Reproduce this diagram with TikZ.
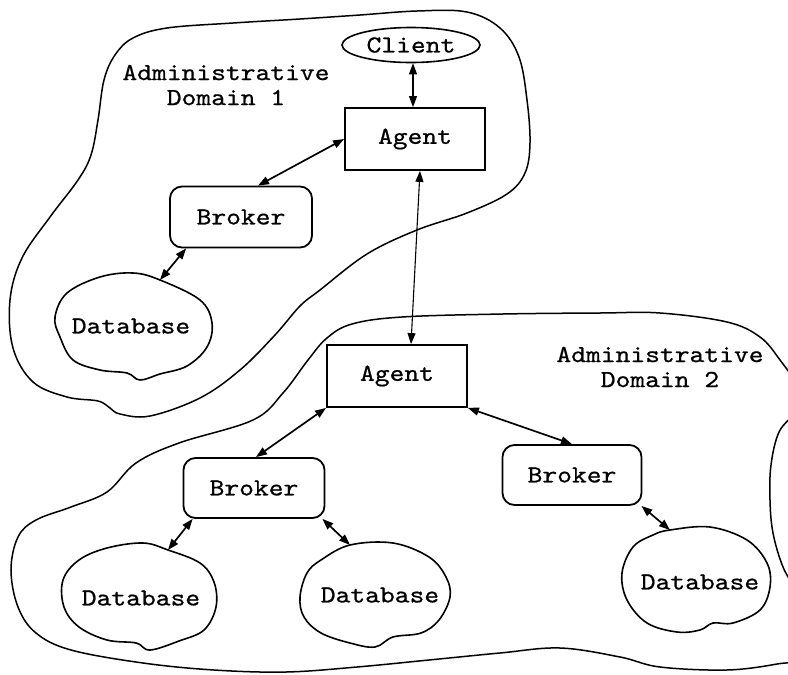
\documentclass[tikz,border=0pt]{standalone}
\usepackage{fontspec}
\newfontfamily\courfont{lmmono10-regular}[Extension=.otf, FakeStretch=1.15, FakeBold=0.7]
\usetikzlibrary{arrows.meta,shapes.geometric}
\tikzset{
  lbl/.style={font={\fontsize{24.5}{25}\selectfont\courfont}, inner sep=0pt},
  agentbox/.style={draw, line width=1.8pt, rectangle, minimum width=140pt, minimum height=62pt, lbl},
  brokerbox/.style={draw, line width=1.8pt, rectangle, rounded corners=12pt, minimum width=141pt, minimum height=60pt, lbl},
  clientbox/.style={draw, line width=1.6pt, ellipse, minimum width=138pt, minimum height=35pt, lbl},
  blob/.style={line width=1.6pt},
  conn/.style={<->, >={Triangle[length=11pt,width=8pt]}, line width=1.7pt},
  thinconn/.style={<->, >={Triangle[length=11pt,width=8pt]}, line width=1.1pt},
}
\begin{document}
\begin{tikzpicture}[x=1pt,y=-1pt]
\useasboundingbox (0,0) rectangle (788,675);
\clip (0,0) rectangle (788,675);
\fill[white] (0,0) rectangle (788,675);

% Domain 1 outline
\draw[line width=1.5pt] plot[smooth cycle, tension=0.6] coordinates {
 (150,416) (200,398) (240,370) (275,335) (300,306) (320,290) (367,254) (417,230)
 (467,213) (507,194) (525,173) (530,143) (527,100) (519,57) (500,28) (467,12)
 (417,11) (360,15) (300,19) (233,23) (167,28) (133,38) (115,55) (104,80) (98,120)
 (91,155) (78,180) (50,217) (22,258) (10,300) (13,348) (33,382) (67,397) (98,401)
 (110,408) (120,414)};

% Domain 2 outline
\draw[line width=1.5pt] plot[smooth cycle, tension=0.6] coordinates {
 (253,420) (283,393) (308,360) (327,338) (352,324) (402,317) (503,314) (600,313)
 (660,313) (727,322) (760,337) (780,360) (796,385) (796,410) (779,432) (771,465)
 (770,500) (773,533) (783,567) (798,595) (805,625) (795,658) (777,664) (727,670)
 (660,667) (620,657) (560,648) (500,653) (429,660) (357,667) (286,672) (214,670)
 (143,663) (71,650) (36,633) (18,607) (11,570) (18,537) (36,520) (71,507) (107,492)
 (136,463) (179,443)};

% Database blobs
\draw[blob] plot[smooth cycle, tension=0.6] coordinates {
 (160,280) (200,300) (212,323) (207,347) (187,366) (160,374) (140,380) (127,373)
 (100,370) (73,360) (60,337) (55,317) (67,293) (100,277) (133,273)};
\draw[blob] plot[smooth cycle, tension=0.6] coordinates {
 (168,550) (200,563) (214,582) (216,607) (204,630) (179,641) (150,650) (136,643)
 (107,640) (79,627) (64,607) (63,580) (79,560) (107,548) (143,543)};
\draw[blob] plot[smooth cycle, tension=0.6] coordinates {
 (350,545) (393,543) (429,557) (446,577) (450,597) (439,620) (421,633) (393,637)
 (375,647) (350,643) (321,633) (304,617) (300,597) (307,573) (321,560)};
\draw[blob] plot[smooth cycle, tension=0.6] coordinates {
 (670,530) (710,527) (747,540) (767,563) (770,587) (760,610) (733,623) (713,623)
 (700,630) (677,632) (647,623) (627,600) (622,573) (633,547) (653,535)};

\coordinate (db1t) at (160,280);
\coordinate (db2t) at (168,550);
\coordinate (db3t) at (350,545);
\coordinate (db4t) at (670,530);

% Labels
\node[lbl, align=center] (dom1) at (226,85) {Administrative\\Domain 1};
\node[lbl, align=center] (dom2) at (660,367) {Administrative\\Domain 2};

% Nodes
\node[clientbox] (client) at (411,45) {Client};
\node[agentbox] (agent1) at (415,139) {Agent};
\node[brokerbox, minimum width=142pt, minimum height=61pt] (broker1) at (241,217) {Broker};
\node[agentbox] (agent2) at (397,376) {Agent};
\node[brokerbox] (broker2) at (254,488) {Broker};
\node[brokerbox, minimum width=139pt] (broker3) at (572,475) {Broker};
\node[lbl] (db1) at (131,326) {Database};
\node[lbl] (db2) at (141,598) {Database};
\node[lbl] (db3) at (380,595) {Database};
\node[lbl] (db4) at (700,582) {Database};

% Connectors
\draw[thinconn] ([xshift=2pt]client.south) -- ([xshift=-2pt]agent1.north);
\draw[conn] (agent1.west) -- ([xshift=17pt]broker1.north);
\draw[conn] ([xshift=17pt]broker1.south west) -- (db1t);
\draw[thinconn] ([xshift=5pt]agent1.south) -- ([xshift=14pt]agent2.north);
\draw[conn] (agent2.south west) -- ([xshift=2pt]broker2.north);
\draw[conn] (agent2.south east) -- (broker3.north);
\draw[conn] ([xshift=10pt]broker2.south west) -- (db2t);
\draw[conn] ([xshift=-3pt]broker2.south east) -- (db3t);
\draw[conn] ([xshift=-1pt]broker3.south east) -- (db4t);
\end{tikzpicture}
\end{document}
